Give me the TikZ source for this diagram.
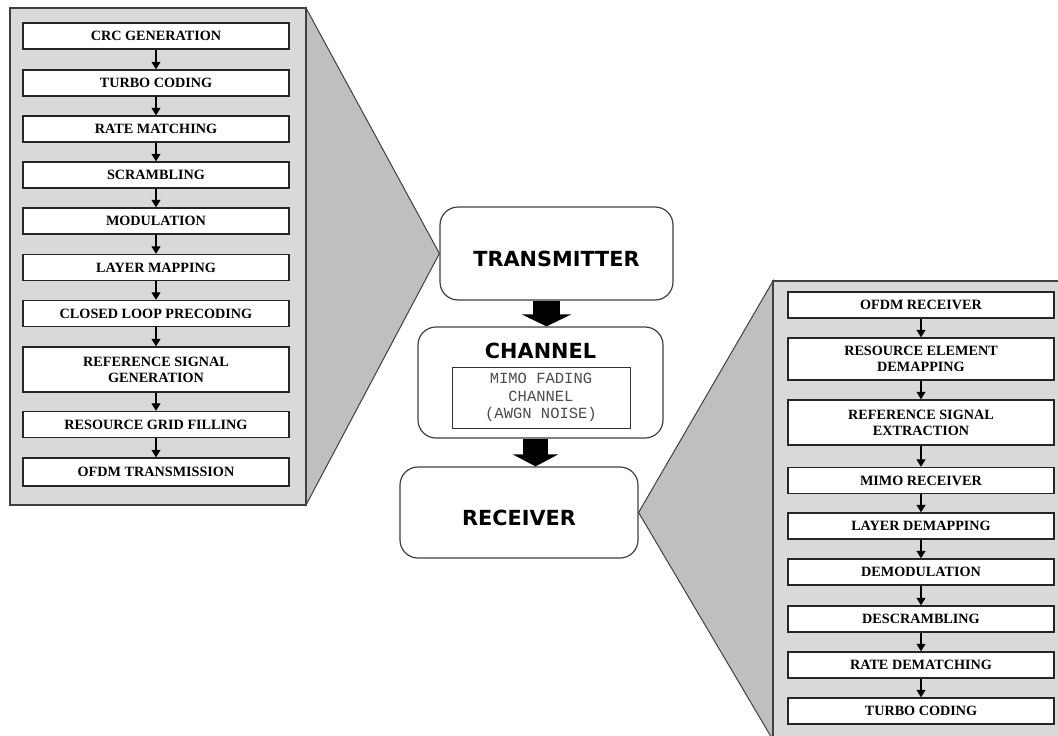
\documentclass[tikz,border=0pt]{standalone}
\usepackage{fontspec}
\usepackage{tikz}
\usetikzlibrary{arrows.meta}
\newfontfamily\stagefont{Liberation Serif}
\newfontfamily\hubfont{DejaVu Sans}
\newfontfamily\chanfont{Liberation Mono}
\definecolor{panelgray}{HTML}{D9D9D9}
\definecolor{wedgegray}{HTML}{BFBFBF}
\definecolor{edgegray}{HTML}{404040}

\begin{document}
\begin{tikzpicture}[x=1pt, y=-1pt,
    stage/.style={draw=black!85, line width=1.4pt, fill=white, minimum width=266pt,
      minimum height=26pt, inner sep=0pt, align=center,
      font=\stagefont\bfseries\fontsize{14.2}{16}\selectfont},
    link/.style={line width=1.2pt, -{Triangle[width=9pt,length=7.5pt]}},
    hub/.style={draw=edgegray, line width=1.2pt, rounded corners=18pt, fill=white,
      font=\hubfont\bfseries\fontsize{20.8}{24}\selectfont},
    bigarrow/.style={line width=27pt, -{Triangle[width=49pt,length=12pt]}}]
    \useasboundingbox (0,0) rectangle (1058,736);

    % middle chain
    \node[hub, minimum width=233pt, minimum height=93pt, text height=25pt, text depth=0pt] (tx) at (556.5,253.5) {TRANSMITTER};
    \node[hub, minimum width=245pt, minimum height=111pt] (ch) at (540.5,382.5) {};
    \node[font=\hubfont\bfseries\fontsize{20.8}{24}\selectfont] (chlabel) at (540.5,351) {CHANNEL};
    \node[draw=black!80, line width=0.8pt, minimum width=178pt, minimum height=61pt, inner sep=0pt,
      align=center, text=black!70, font=\chanfont\fontsize{15.5}{17.5}\selectfont]
      (fading) at (541,397.5) {MIMO FADING\\CHANNEL\\(AWGN NOISE)};
    \node[hub, minimum width=238pt, minimum height=91pt, text height=25pt, text depth=0pt] (rx) at (519,512.5) {RECEIVER};
    \draw[bigarrow] ([xshift=-10pt]tx.south) -- ([xshift=6pt]ch.north);
    \draw[bigarrow, line width=25pt, -{Triangle[width=45pt,length=12pt]}]
      ([xshift=-5pt]ch.south) -- ([xshift=16.5pt]rx.north);

    % transmitter detail
    \draw[edgegray, line width=1pt, fill=wedgegray] (306,8) -- (tx.west) -- (306,505) -- cycle;
    \draw[edgegray, line width=1.2pt, fill=panelgray] (10,8) rectangle (306,505);
    \node[stage] (t1) at (156,36) {CRC GENERATION};
    \node[stage] (t2) at (156,83) {TURBO CODING};
    \node[stage] (t3) at (156,129) {RATE MATCHING};
    \node[stage] (t4) at (156,175) {SCRAMBLING};
    \node[stage] (t5) at (156,221) {MODULATION};
    \node[stage] (t6) at (156,267.5) {LAYER MAPPING};
    \node[stage] (t7) at (156,313.5) {CLOSED LOOP PRECODING};
    \node[stage, minimum height=45pt] (t8) at (156,369.5) {REFERENCE SIGNAL\\GENERATION};
    \node[stage] (t9) at (156,424.5) {RESOURCE GRID FILLING};
    \node[stage, minimum height=28pt] (t10) at (156,472) {OFDM TRANSMISSION};
    \draw[link] (t1) -- (t2);
    \draw[link] (t2) -- (t3);
    \draw[link] (t3) -- (t4);
    \draw[link] (t4) -- (t5);
    \draw[link] (t5) -- (t6);
    \draw[link] (t6) -- (t7);
    \draw[link] (t7) -- (t8);
    \draw[link] (t8) -- (t9);
    \draw[link] (t9) -- (t10);

    % receiver detail
    \draw[edgegray, line width=1pt, fill=wedgegray] (773,281) -- (rx.east) -- (773,740) -- cycle;
    \draw[edgegray, line width=1.2pt, fill=panelgray] (773,281) rectangle (1064,742);
    \node[stage] (r1) at (921,305) {OFDM RECEIVER};
    \node[stage, minimum height=42pt] (r2) at (921,359) {RESOURCE ELEMENT\\DEMAPPING};
    \node[stage, minimum height=45pt] (r3) at (921,422.5) {REFERENCE SIGNAL\\EXTRACTION};
    \node[stage] (r4) at (921,480.5) {MIMO RECEIVER};
    \node[stage] (r5) at (921,526) {LAYER DEMAPPING};
    \node[stage] (r6) at (921,572) {DEMODULATION};
    \node[stage] (r7) at (921,619) {DESCRAMBLING};
    \node[stage] (r8) at (921,665) {RATE DEMATCHING};
    \node[stage] (r9) at (921,711) {TURBO CODING};
    \draw[link] (r1) -- (r2);
    \draw[link] (r2) -- (r3);
    \draw[link] (r3) -- (r4);
    \draw[link] (r4) -- (r5);
    \draw[link] (r5) -- (r6);
    \draw[link] (r6) -- (r7);
    \draw[link] (r7) -- (r8);
    \draw[link] (r8) -- (r9);
\end{tikzpicture}
\end{document}
